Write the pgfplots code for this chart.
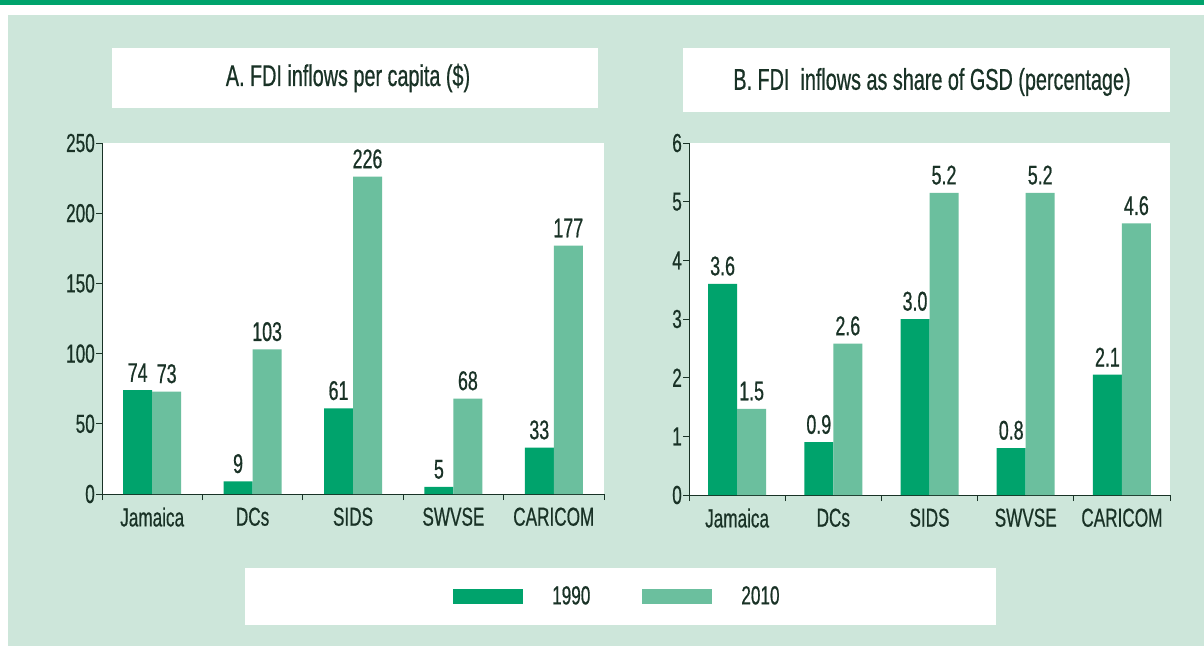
\documentclass[border=0pt]{standalone}
\usepackage{fontspec}
\setmainfont{Liberation Sans}[FakeStretch=0.66, FakeBold=0.6]
\usepackage{pgfplots}
\pgfplotsset{compat=1.18}
\definecolor{dg}{RGB}{0,163,108}
\definecolor{lg}{RGB}{107,191,158}
\definecolor{bgc}{RGB}{205,230,218}
\definecolor{txt}{RGB}{25,50,38}
\pgfplotsset{
  mybar/.style={
    scale only axis,
    height=351pt,
    ymin=0, xmin=-0.5, xmax=4.5,
    axis background/.style={fill=white},
    ybar=0pt, bar width=29pt,
    axis x line*=bottom, axis y line*=left,
    axis line style={draw=txt, line width=0.9pt},
    tick style={draw=txt, line width=0.9pt},
    tick align=outside, major tick length=6pt,
    xtick={-0.5,0.5,1.5,2.5,3.5,4.5},
    xticklabels={Jamaica,DCs,SIDS,SWVSE,CARICOM,},
    ticklabel style={font=\fontsize{26}{28}\selectfont, text=txt},
    /pgf/number format/assume math mode=true,
    yticklabel style={inner sep=1pt},
    xticklabel style={yshift=-4pt},
    nodes near coords,
    every node near coord/.append style={font=\fontsize{27}{29}\selectfont, text=txt, inner sep=3pt, yshift=5pt},
    clip=false,
  },
  barleg/.style={legend image code/.code={\path[##1,draw=none] (0pt,-7.5pt) rectangle (70pt,7.5pt);}},
}
\begin{document}
\begin{tikzpicture}[x=1pt,y=1pt]
\useasboundingbox (0,0) rectangle (1204,-646);
\fill[white] (0,0) rectangle (1204,-646);
\fill[dg] (0,0) rectangle (1204,-5);
\fill[bgc] (8,-15) rectangle (1204,-646);
\fill[white] (112,-48) rectangle (598,-108);
\node[text=txt,font=\fontsize{30}{32}\selectfont] at (348,-78) {A. FDI inflows per capita (\$)};
\fill[white] (683,-48) rectangle (1170,-112);
\node[text=txt,font=\fontsize{30}{32}\selectfont] at (932,-82) {B. FDI\ \ inflows as share of GSD (percentage)};
\fill[white] (245,-568) rectangle (996,-625);

\begin{axis}[mybar, width=502pt, at={(102pt,-494pt)}, anchor=south west,
  ymax=250, ytick={0,50,...,250},
  xticklabel style={xshift=50.2pt},
  legend columns=2,
  legend style={at={(0.6992,-0.2906)}, anchor=west, draw=none, fill=none, inner sep=0pt,
    font=\fontsize{26}{28}\selectfont, text=txt,
    /tikz/every odd column/.append style={column sep=27pt},
    /tikz/every even column/.append style={column sep=50pt}},
]
\addplot[fill=dg, draw=none, barleg] coordinates {(0,74) (1,9) (2,61) (3,5) (4,33)};
\addplot[fill=lg, draw=none, barleg] coordinates {(0,73) (1,103) (2,226) (3,68) (4,177)};
\legend{1990,2010}
\end{axis}

\begin{axis}[mybar, width=481pt, at={(689pt,-495pt)}, anchor=south west,
  height=352pt,
  ymax=6, ytick={0,1,...,6},
  xticklabel style={xshift=48.1pt},
  nodes near coords={\pgfmathprintnumber[fixed,fixed zerofill,precision=1]{\pgfplotspointmeta}},
]
\addplot[fill=dg, draw=none] coordinates {(0,3.6) (1,0.9) (2,3.0) (3,0.8) (4,2.05)};
\addplot[fill=lg, draw=none] coordinates {(0,1.47) (1,2.58) (2,5.15) (3,5.15) (4,4.63)};
\end{axis}
\end{tikzpicture}
\end{document}
